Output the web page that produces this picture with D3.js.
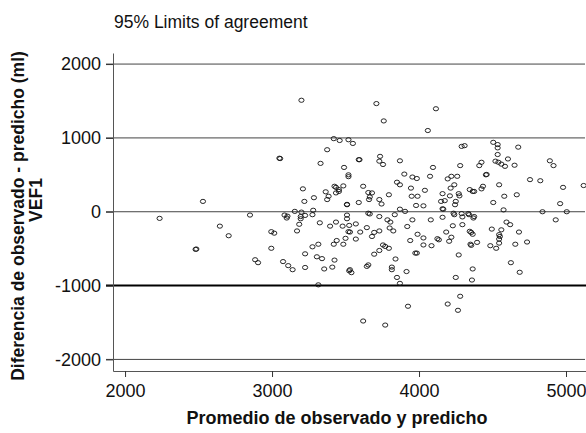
<!DOCTYPE html>
<html>
<head>
<meta charset="utf-8">
<script src="https://cdn.jsdelivr.net/npm/d3@7"></script>
<style>
  body { margin: 0; background: #fff; }
  svg text { font-family: "Liberation Sans", Arial, Helvetica, sans-serif; }
</style>
</head>
<body>
<div id="chart"></div>
<script>
// tick values
const xTicks = [2000, 3000, 4000, 5000];
const yTicks = [-2000, -1000, 0, 1000, 2000];
// reference lines (thin) and the limit line (thick)
const refLines = [2000, 1000, 0, -2000];
const limitLines = [-1000];

// points: [promedio, diferencia]
const points = [
  [3200,1510],[3710,1465],[4115,1395],[3760,1230],[4060,1100],
  [3420,990],[3460,965],[3520,975],[3550,925],[4290,885],[4310,895],
  [4505,940],[4535,910],[4535,865],[4675,875],[3375,840],[4535,775],
  [3050,725],[3055,720],[3590,705],[3595,705],[3735,750],[3730,685],[3755,640],
  [3870,690],[3330,655],[3490,600],[4095,600],[4280,625],[4410,625],[4425,670],
  [4520,685],[4540,670],[4560,645],[4585,615],[4605,715],[4650,630],
  [4890,690],[4915,625],[3520,500],[3520,475],[3900,510],[3955,470],[3985,450],
  [4075,480],[4195,445],[4220,480],[4260,480],[4455,500],[4460,505],
  [4755,435],[4825,420],[3850,400],[3870,365],[3945,320],[3210,310],
  [3425,345],[3435,330],[3485,350],[3455,300],[3365,270],[3385,210],[3435,255],[3455,275],
  [3285,190],[3620,345],[3655,260],[3680,255],[3665,200],[3660,165],[3730,165],
  [3745,105],[3795,230],[3950,210],[3990,210],[4040,290],[4215,320],[4240,365],
  [4160,245],[4210,215],[4270,245],[4275,215],[4345,300],[4365,275],[4375,275],
  [4425,310],[4435,345],[4545,365],[4665,230],[4580,210],[4980,330],[5120,355],
  [4150,140],[4175,150],[4250,140],[4245,95],[4030,80],[3980,85],[4505,125],[4960,110],
  [4160,40],[4165,35],[4235,-20],[4290,-25],[4335,-25],[4575,25],[4840,0],[5005,0],
  [3220,140],[3375,165],[3510,100],[3510,95],[3590,125],[3870,35],[3905,5],[2530,140],
  [3155,5],[3200,-5],[3280,20],[3275,-40],[3225,-50],[2235,-90],[2850,-45],
  [3085,-45],[3105,-60],[3195,-65],[3510,-45],[3510,-95],[3665,-30],[3835,-40],
  [3655,-20],[3730,-65],
  [3100,-85],[2645,-195],[2705,-325],[2485,-505],[2480,-510],[2995,-270],[3015,-290],
  [2995,-495],[2885,-650],[2905,-690],[3075,-675],[3110,-730],[3140,-785],[3225,-755],
  [3195,-95],[3185,-170],[3170,-260],[3325,-150],[3395,-195],[3435,-140],[3480,-195],
  [3520,-270],[3225,-570],[3275,-475],[3315,-440],[3305,-610],[3340,-635],[3425,-655],
  [3355,-775],[3410,-750],[3440,-390],[3420,-440],[3485,-440],[3500,-360],[3525,-800],
  [3315,-990],[3525,-185],[3570,-165],[3530,-275],[3570,-370],[3645,-215],[3600,-275],
  [3680,-335],[3695,-280],[3730,-260],[3785,-110],[3805,-140],[3800,-220],[3825,-260],
  [3955,-110],[3920,-200],[3990,-305],[3940,-390],[3975,-560],[3985,-560],
  [3755,-450],[3770,-470],[3795,-495],[3695,-575],[3730,-525],[3840,-640],
  [3815,-750],[3815,-785],[3655,-720],[3645,-740],[3530,-785],[3540,-825],
  [3850,-890],[3915,-810],[3870,-970],[3620,-1480],[3770,-1535],[3925,-1280],
  [4195,-1250],[4265,-1335],[4280,-1145],[4250,-890],[4360,-925],[4365,-775],
  [4685,-820],[4625,-690],[4270,-585],[4080,-110],[4030,-355],[4030,-450],[4085,-460],
  [4125,-365],[4135,-380],[4185,-275],[4205,-400],[4220,-345],[4230,-190],[4160,-75],
  [4240,-40],[4295,-70],[4295,-175],[4340,-40],[4370,-85],[4375,-65],
  [4345,-265],[4355,-280],[4365,-305],[4350,-440],[4355,-455],[4395,-415],
  [4495,-235],[4485,-460],[4525,-495],[4545,-425],[4545,-370],[4550,-335],[4545,-310],
  [4560,-245],[4595,-140],[4620,-175],[4680,-275],[4655,-440],[4735,-410],[4930,-110]
];

const width = 586, height = 433;

const svg = d3.select('#chart').append('svg')
  .attr('width', width)
  .attr('height', height);

const x = d3.scaleLinear().domain([1918, 5136]).range([113, 586]);
const y = d3.scaleLinear().domain([-2157, 2150]).range([371, 53]);

// horizontal reference lines
svg.append('g').selectAll('line.ref')
  .data(refLines)
  .enter().append('line')
  .attr('class', 'ref')
  .attr('x1', 106).attr('x2', 585)
  .attr('y1', d => y(d)).attr('y2', d => y(d))
  .attr('stroke', '#444')
  .attr('stroke-width', 1);

svg.append('g').selectAll('line.limit')
  .data(limitLines)
  .enter().append('line')
  .attr('class', 'limit')
  .attr('x1', 106).attr('x2', 586)
  .attr('y1', d => y(d)).attr('y2', d => y(d))
  .attr('stroke', '#000')
  .attr('stroke-width', 2);

// axes (plain hyphen for negatives, like the original)
const fmt = d => String(d);

const yAxis = svg.append('g')
  .attr('transform', 'translate(113,0)')
  .call(d3.axisLeft(y).tickValues(yTicks).tickSize(7).tickSizeOuter(0).tickPadding(5).tickFormat(fmt));

const xAxis = svg.append('g')
  .attr('transform', 'translate(0,371)')
  .call(d3.axisBottom(x).tickValues(xTicks).tickSize(6).tickSizeOuter(0).tickPadding(7).tickFormat(fmt));

[yAxis, xAxis].forEach(a => {
  a.select('.domain').attr('stroke', '#555');
  a.selectAll('.tick line').attr('stroke', '#333');
  a.selectAll('.tick text')
    .attr('fill', '#111')
    .style('font-size', '18px')
    .style('font-family', '"Liberation Sans", Arial, sans-serif');
});

// scatter points
svg.append('g').selectAll('ellipse')
  .data(points)
  .enter().append('ellipse')
  .attr('cx', d => x(d[0]))
  .attr('cy', d => y(d[1]))
  .attr('rx', 2.6)
  .attr('ry', 2.1)
  .attr('fill', 'none')
  .attr('stroke', '#111')
  .attr('stroke-width', 0.9);

// titles
svg.append('text')
  .attr('x', 114).attr('y', 28)
  .style('font-size', '17.5px')
  .attr('fill', '#111')
  .text('95% Limits of agreement');

svg.append('text')
  .attr('x', 337).attr('y', 424)
  .attr('text-anchor', 'middle')
  .style('font-size', '18px')
  .style('font-weight', 'bold')
  .attr('fill', '#111')
  .text('Promedio de observado y predicho');

svg.append('text')
  .attr('transform', 'translate(24,216) rotate(-90)')
  .attr('text-anchor', 'middle')
  .style('font-size', '17.5px')
  .style('font-weight', 'bold')
  .attr('fill', '#111')
  .text('Diferencia de observado - predicho (ml)');

svg.append('text')
  .attr('transform', 'translate(42,200) rotate(-90)')
  .attr('text-anchor', 'middle')
  .style('font-size', '17.5px')
  .style('font-weight', 'bold')
  .attr('fill', '#111')
  .text('VEF1');
</script>
</body>
</html>
